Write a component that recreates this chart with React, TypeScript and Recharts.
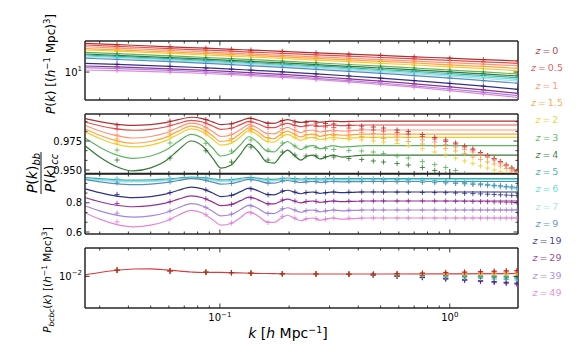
import React from 'react';
import { LineChart, Line, XAxis, YAxis } from 'recharts';

const FONT = "'DejaVu Sans', sans-serif";
const FRAME = '#262626';

const Z_LABELS = ['0', '0.5', '1', '1.5', '2', '3', '4', '5', '6', '7', '9', '19', '29', '39', '49'];
const Z_COLORS = [
  '#a51c1c', '#e23b3b', '#ff8a66', '#ff9a2e', '#f2c81a', '#4cad4c', '#1f6b1f', '#2aa198',
  '#48e0d0', '#aad6ea', '#4682b4', '#1c1c7a', '#8b1a8b', '#9a78dc', '#e27ad0',
];

const K_DOMAIN = [0.0259, 1.98];
const X_TICKS = [0.03, 0.04, 0.05, 0.06, 0.07, 0.08, 0.09, 0.1, 0.2, 0.3, 0.4, 0.5, 0.6, 0.7, 0.8, 0.9, 1];
const X_MAJOR = [0.1, 1];

// theory k grid for the ratio panels
const K_THEORY = [
  0.026, 0.03, 0.035, 0.042, 0.05, 0.058, 0.066, 0.075, 0.084, 0.093, 0.101, 0.112, 0.123, 0.134,
  0.146, 0.16, 0.172, 0.185, 0.197, 0.21, 0.225, 0.24, 0.256, 0.272, 0.29, 0.31, 0.34, 0.38, 0.43,
  0.5, 0.65, 0.85, 1.2, 1.98,
];
// simulation bins
const K_SIM = [
  0.0357, 0.0607, 0.0869, 0.1123, 0.1365, 0.162, 0.187, 0.212, 0.237, 0.262, 0.288, 0.313, 0.364,
  0.414, 0.465, 0.515, 0.59, 0.66, 0.76, 0.86, 0.96, 1.06, 1.16, 1.26, 1.36, 1.46, 1.56, 1.66, 1.76,
  1.86, 1.96,
];
const K_P1 = [0.026, 0.0357, 0.0607, 0.0869, 0.1123, 0.1365, 0.187, 0.262, 0.364, 0.5, 0.7, 1.0, 1.4, 1.98];
const K_P4 = [0.026, 0.03, 0.035, 0.042, 0.05, 0.058, 0.066, 0.075, 0.084, 0.1, 0.12, 0.14, 0.17, 0.22, 0.3, 0.5, 1.0, 1.98];
const K_P4_SIM = [0.0357, 0.0607, 0.0869, 0.1123, 0.1365, 0.187, 0.262, 0.364, 0.465, 0.59, 0.76, 0.96, 1.16, 1.36, 1.56, 1.76, 1.96];

// panel 1: P(k), one row per z
const P1 = [
  [23.47, 22.57, 21.15, 20.29, 19.64, 19.18, 18.45, 17.7, 17.03, 16.39, 15.72, 15.09, 14.47, 13.88],
  [22.31, 21.46, 20.05, 19.18, 18.56, 18.07, 17.44, 16.68, 16.0, 15.4, 14.77, 14.13, 13.56, 12.97],
  [21.22, 20.35, 19.02, 18.13, 17.55, 17.09, 16.39, 15.72, 15.05, 14.43, 13.84, 13.2, 12.63, 12.08],
  [20.0, 19.3, 18.13, 17.35, 16.79, 16.35, 15.72, 15.0, 14.34, 13.72, 13.08, 12.4, 11.8, 11.18],
  [19.24, 18.57, 17.4, 16.59, 16.05, 15.63, 14.95, 14.26, 13.6, 12.97, 12.33, 11.65, 11.05, 10.41],
  [17.97, 17.29, 16.15, 15.4, 14.86, 14.47, 13.84, 13.16, 12.51, 11.9, 11.28, 10.63, 10.05, 9.44],
  [17.09, 16.44, 15.36, 14.64, 14.13, 13.72, 13.16, 12.48, 11.86, 11.28, 10.66, 10.05, 9.47, 8.9],
  [16.59, 15.96, 14.86, 14.13, 13.64, 13.24, 12.63, 12.01, 11.38, 10.79, 10.2, 9.58, 9.03, 8.45],
  [16.1, 15.5, 14.47, 13.76, 13.24, 12.85, 12.29, 11.62, 11.01, 10.44, 9.84, 9.22, 8.64, 8.07],
  [15.5, 14.95, 14.0, 13.36, 12.89, 12.48, 11.93, 11.28, 10.66, 10.08, 9.47, 8.85, 8.26, 7.67],
  [15.05, 14.51, 13.6, 12.93, 12.44, 12.04, 11.48, 10.85, 10.23, 9.61, 9.01, 8.37, 7.76, 7.17],
  [12.97, 12.59, 11.86, 11.31, 10.92, 10.57, 10.05, 9.47, 8.9, 8.34, 7.76, 7.14, 6.57, 5.99],
  [11.97, 11.65, 11.01, 10.5, 10.14, 9.82, 9.33, 8.74, 8.19, 7.65, 7.06, 6.46, 5.89, 5.32],
  [11.38, 11.08, 10.5, 10.02, 9.64, 9.33, 8.85, 8.31, 7.76, 7.23, 6.65, 6.05, 5.5, 4.98],
  [10.63, 10.44, 9.99, 9.58, 9.25, 8.98, 8.54, 7.99, 7.47, 6.94, 6.38, 5.78, 5.23, 4.7],
];

// panel 2: P_bb/P_cc theory, z = 0 .. 4
const P2_LINES = [
  [0.9943, 0.9917, 0.9896, 0.9885, 0.9892, 0.9908, 0.9934, 0.9955, 0.9943, 0.9915, 0.9892, 0.9899, 0.9924, 0.9948, 0.9931, 0.9906, 0.9903, 0.9922, 0.9934, 0.9922, 0.991, 0.992, 0.9922, 0.9913, 0.9917, 0.9922, 0.9917, 0.992, 0.9922, 0.9922, 0.9922, 0.9922, 0.9922, 0.9922],
  [0.9914, 0.9882, 0.9857, 0.9843, 0.9851, 0.9871, 0.9902, 0.9928, 0.9914, 0.9879, 0.9851, 0.986, 0.9891, 0.9919, 0.9899, 0.9868, 0.9865, 0.9888, 0.9902, 0.9888, 0.9874, 0.9885, 0.9888, 0.9877, 0.9882, 0.9888, 0.9882, 0.9885, 0.9888, 0.9888, 0.9888, 0.9888, 0.9888, 0.9888],
  [0.9884, 0.9836, 0.9798, 0.9776, 0.9789, 0.9819, 0.9867, 0.9905, 0.9884, 0.9832, 0.9789, 0.9802, 0.9849, 0.9892, 0.9862, 0.9815, 0.9811, 0.9845, 0.9867, 0.9845, 0.9823, 0.9841, 0.9845, 0.9828, 0.9836, 0.9845, 0.9836, 0.9841, 0.9845, 0.9845, 0.9845, 0.9845, 0.9845, 0.9845],
  [0.9854, 0.98, 0.9756, 0.9731, 0.9746, 0.9781, 0.9835, 0.9879, 0.9854, 0.9795, 0.9746, 0.9761, 0.9815, 0.9864, 0.983, 0.9776, 0.9771, 0.981, 0.9835, 0.981, 0.9785, 0.9805, 0.981, 0.979, 0.98, 0.981, 0.98, 0.9805, 0.981, 0.981, 0.981, 0.981, 0.981, 0.981],
  [0.9829, 0.9772, 0.9725, 0.9699, 0.9715, 0.9751, 0.9808, 0.9854, 0.9829, 0.9766, 0.9715, 0.973, 0.9787, 0.9839, 0.9803, 0.9746, 0.9741, 0.9782, 0.9808, 0.9782, 0.9756, 0.9777, 0.9782, 0.9761, 0.9772, 0.9782, 0.9772, 0.9777, 0.9782, 0.9782, 0.9782, 0.9782, 0.9782, 0.9782],
  [0.9773, 0.9697, 0.9635, 0.9601, 0.9621, 0.967, 0.9746, 0.9808, 0.9773, 0.969, 0.9621, 0.9642, 0.9718, 0.9787, 0.9739, 0.9663, 0.9656, 0.9711, 0.9746, 0.9711, 0.9676, 0.9704, 0.9711, 0.9683, 0.9697, 0.9711, 0.9697, 0.9704, 0.9711, 0.9711, 0.9711, 0.9711, 0.9711, 0.9711],
  [0.9707, 0.9612, 0.9535, 0.9492, 0.9518, 0.9578, 0.9672, 0.975, 0.9707, 0.9603, 0.9517, 0.9543, 0.9638, 0.9724, 0.9664, 0.9569, 0.956, 0.9629, 0.9672, 0.9629, 0.9586, 0.9621, 0.9629, 0.9595, 0.9612, 0.9629, 0.9612, 0.9621, 0.9629, 0.9629, 0.9629, 0.9629, 0.9629, 0.9629],
];
const P2_SIM = [
  [0.9888, 0.9922, 0.9935, 0.9897, 0.9944, 0.9901, 0.9927, 0.9914, 0.9909, 0.9905, 0.9901, 0.9897, 0.9888, 0.9879, 0.9871, 0.9862, 0.9845, 0.9832, 0.9806, 0.978, 0.9759, 0.9733, 0.9707, 0.9681, 0.9651, 0.9625, 0.9599, 0.9573, 0.9543, 0.9517, 0.9491],
  [0.9853, 0.9888, 0.9905, 0.9862, 0.9914, 0.9866, 0.9897, 0.9884, 0.9879, 0.9875, 0.9871, 0.9866, 0.9862, 0.9853, 0.9845, 0.9836, 0.9823, 0.981, 0.9789, 0.9767, 0.9746, 0.9724, 0.9698, 0.9672, 0.9647, 0.9621, 0.9595, 0.9569, 0.9543, 0.9517, 0.9487],
  [0.9802, 0.9845, 0.9866, 0.981, 0.9875, 0.9815, 0.9858, 0.9845, 0.9841, 0.9836, 0.9836, 0.9832, 0.9828, 0.9823, 0.9815, 0.9806, 0.9793, 0.978, 0.9759, 0.9741, 0.972, 0.9698, 0.9677, 0.9655, 0.9629, 0.9608, 0.9586, 0.956, 0.9535, 0.9509, 0.9483],
  [0.9767, 0.981, 0.9836, 0.9772, 0.9849, 0.978, 0.9823, 0.981, 0.9806, 0.9802, 0.9802, 0.9797, 0.9793, 0.9789, 0.978, 0.9772, 0.9759, 0.9746, 0.9724, 0.9707, 0.9685, 0.9664, 0.9642, 0.9612, 0.9591, 0.9569, 0.9552, 0.9535, 0.9513, 0.9491, 0.9474],
  [0.9733, 0.9784, 0.981, 0.9746, 0.9828, 0.975, 0.9797, 0.978, 0.9776, 0.9772, 0.9767, 0.9763, 0.9763, 0.9759, 0.975, 0.9741, 0.9728, 0.9711, 0.9685, 0.9655, 0.9629, 0.9603, 0.9578, 0.9556, 0.9535, 0.9517, 0.95, 0.9483, 0.9466, null, null],
  [0.9672, 0.9733, 0.973, 0.9664, 0.9759, 0.9672, 0.9733, 0.9707, 0.9698, 0.9694, 0.9685, 0.9677, 0.9668, 0.9664, 0.9655, 0.9642, 0.9621, 0.9603, 0.9573, 0.9548, 0.9522, 0.9496, 0.947, null, null, null, null, null, null, null, null],
  [0.9586, 0.9603, 0.9666, 0.9569, 0.9698, 0.9586, 0.9655, 0.9629, 0.9621, 0.9621, 0.9615, 0.9612, 0.9599, 0.9591, 0.9578, 0.9569, 0.9556, 0.9543, 0.9522, 0.9496, 0.9466, null, null, null, null, null, null, null, null, null, null],
];

// panel 3: P_bb/P_cc theory, z = 5 .. 49
const P3_LINES = [
  [0.9727, 0.9651, 0.959, 0.9555, 0.9576, 0.9624, 0.9699, 0.9761, 0.9727, 0.9644, 0.9576, 0.9596, 0.9672, 0.974, 0.9692, 0.9617, 0.961, 0.9665, 0.9699, 0.9665, 0.9631, 0.9658, 0.9665, 0.9638, 0.9651, 0.9665, 0.9651, 0.9658, 0.9665, 0.9665, 0.9665, 0.9665, 0.9665, 0.9665],
  [0.9658, 0.9582, 0.9521, 0.9486, 0.9507, 0.9555, 0.963, 0.9692, 0.9658, 0.9575, 0.9507, 0.9527, 0.9603, 0.9671, 0.9623, 0.9548, 0.9541, 0.9596, 0.963, 0.9596, 0.9562, 0.9589, 0.9596, 0.9569, 0.9582, 0.9596, 0.9582, 0.9589, 0.9596, 0.9596, 0.9596, 0.9596, 0.9596, 0.9596],
  [0.9636, 0.9546, 0.9472, 0.9431, 0.9455, 0.9513, 0.9603, 0.9677, 0.9636, 0.9537, 0.9455, 0.948, 0.957, 0.9652, 0.9595, 0.9505, 0.9496, 0.9562, 0.9603, 0.9562, 0.9521, 0.9554, 0.9562, 0.9529, 0.9546, 0.9562, 0.9546, 0.9554, 0.9562, 0.9562, 0.9562, 0.9562, 0.9562, 0.9562],
  [0.9582, 0.9432, 0.9308, 0.924, 0.9281, 0.9377, 0.9528, 0.9651, 0.9582, 0.9418, 0.9281, 0.9322, 0.9473, 0.961, 0.9514, 0.9363, 0.9349, 0.9459, 0.9528, 0.9459, 0.939, 0.9445, 0.9459, 0.9404, 0.9432, 0.9459, 0.9432, 0.9445, 0.9459, 0.9459, 0.9459, 0.9459, 0.9459, 0.9459],
  [0.8956, 0.8692, 0.8476, 0.8356, 0.8428, 0.8596, 0.886, 0.9076, 0.8956, 0.8668, 0.8428, 0.85, 0.8764, 0.9004, 0.8836, 0.8572, 0.8548, 0.874, 0.886, 0.874, 0.862, 0.8716, 0.874, 0.8644, 0.8692, 0.874, 0.8692, 0.8716, 0.874, 0.874, 0.874, 0.874, 0.874, 0.874],
  [0.8345, 0.8074, 0.7851, 0.7728, 0.7802, 0.7975, 0.8247, 0.8469, 0.8345, 0.8049, 0.7802, 0.7876, 0.8148, 0.8395, 0.8222, 0.795, 0.7925, 0.8123, 0.8247, 0.8123, 0.7999, 0.8098, 0.8123, 0.8024, 0.8074, 0.8123, 0.8074, 0.8098, 0.8123, 0.8123, 0.8123, 0.8123, 0.8123, 0.8123],
  [0.7784, 0.7445, 0.7168, 0.7014, 0.7107, 0.7322, 0.7661, 0.7938, 0.7784, 0.7415, 0.7107, 0.7199, 0.7538, 0.7846, 0.763, 0.7291, 0.7261, 0.7507, 0.7661, 0.7507, 0.7353, 0.7476, 0.7507, 0.7384, 0.7445, 0.7507, 0.7445, 0.7476, 0.7507, 0.7507, 0.7507, 0.7507, 0.7507, 0.7507],
  [0.7298, 0.6884, 0.6544, 0.6356, 0.6469, 0.6733, 0.7148, 0.7487, 0.7298, 0.6846, 0.6469, 0.6582, 0.6997, 0.7374, 0.711, 0.6695, 0.6657, 0.6959, 0.7148, 0.6959, 0.677, 0.6921, 0.6959, 0.6808, 0.6884, 0.6959, 0.6884, 0.6921, 0.6959, 0.6959, 0.6959, 0.6959, 0.6959, 0.6959],
];
const P3_SIM = [
  [0.963, 0.9651, 0.9706, 0.9603, 0.9727, 0.961, 0.9686, 0.9665, 0.9655, 0.9658, 0.9651, 0.9665, 0.966, 0.965, 0.964, 0.962, 0.96, 0.958, 0.955, 0.951, 0.947, 0.943, 0.939, 0.935, 0.931, 0.926, 0.921, 0.917, 0.912, 0.907, 0.902],
  [0.956, 0.9582, 0.9637, 0.9534, 0.9658, 0.9541, 0.9617, 0.9596, 0.9586, 0.9589, 0.9582, 0.9596, 0.959, 0.958, 0.957, 0.955, 0.953, 0.951, 0.948, 0.944, 0.94, 0.936, 0.932, 0.928, 0.924, 0.919, 0.914, 0.91, 0.905, 0.9, 0.895],
  [0.951, 0.9546, 0.9611, 0.9488, 0.9636, 0.9496, 0.9587, 0.9562, 0.955, 0.9554, 0.9546, 0.9562, 0.956, 0.955, 0.954, 0.953, 0.951, 0.949, 0.946, 0.943, 0.939, 0.935, 0.931, 0.927, 0.923, 0.919, 0.915, 0.911, 0.907, 0.903, 0.899],
  [0.936, 0.9432, 0.9541, 0.9336, 0.9582, 0.9349, 0.95, 0.9459, 0.9439, 0.9445, 0.9432, 0.9459, 0.946, 0.945, 0.945, 0.944, 0.943, 0.942, 0.94, 0.938, 0.936, 0.933, 0.93, 0.927, 0.924, 0.921, 0.918, 0.915, 0.912, 0.909, 0.906],
  [0.857, 0.8692, 0.8884, 0.8524, 0.8956, 0.8548, 0.8812, 0.874, 0.8704, 0.8716, 0.8692, 0.874, 0.874, 0.874, 0.874, 0.873, 0.873, 0.872, 0.871, 0.87, 0.869, 0.867, 0.865, 0.863, 0.861, 0.859, 0.857, 0.855, 0.853, 0.851, 0.849],
  [0.795, 0.8074, 0.8271, 0.79, 0.8345, 0.7925, 0.8197, 0.8123, 0.8086, 0.8098, 0.8074, 0.8123, 0.8123, 0.8123, 0.8123, 0.8123, 0.8123, 0.8123, 0.8123, 0.8123, 0.812, 0.811, 0.81, 0.809, 0.808, 0.807, 0.806, 0.805, 0.804, 0.803, 0.802],
  [0.729, 0.7445, 0.7692, 0.723, 0.7784, 0.7261, 0.7599, 0.7507, 0.746, 0.7476, 0.7445, 0.7507, 0.7507, 0.7507, 0.7507, 0.7507, 0.7507, 0.7507, 0.7507, 0.7507, 0.7507, 0.7507, 0.7507, 0.7507, 0.7507, 0.7507, 0.7507, 0.7507, 0.7507, 0.7507, 0.7507],
  [0.669, 0.6884, 0.7185, 0.662, 0.7298, 0.6657, 0.7072, 0.6959, 0.6902, 0.6921, 0.6884, 0.6959, 0.6959, 0.6959, 0.6959, 0.6959, 0.6959, 0.6959, 0.6959, 0.6959, 0.6959, 0.6959, 0.6959, 0.6959, 0.6959, 0.6959, 0.6959, 0.6959, 0.6959, 0.6959, 0.6959],
];

// panel 4: cross spectrum
const P4_LINE = [0.01061, 0.01155, 0.01243, 0.01314, 0.01323, 0.01275, 0.0122, 0.01176, 0.01155, 0.01163, 0.01142, 0.01121, 0.01109, 0.01092, 0.01092, 0.01092, 0.011, 0.01113];
const P4_SIM_LOW = [0.01252, 0.01229, 0.01163, 0.0115, 0.01121, 0.011, 0.01092, 0.0108];
const P4_SIM_HIGH = [
  [0.0109, 0.01109, 0.01133, 0.01159, 0.01176, 0.01198, 0.01216, 0.01234, 0.01243],
  [0.01088, 0.01105, 0.01127, 0.01146, 0.01163, 0.0118, 0.01198, 0.01211, 0.0122],
  [0.01084, 0.01096, 0.01113, 0.01125, 0.01137, 0.0115, 0.01159, 0.01172, 0.01176],
  [0.01082, 0.01088, 0.01099, 0.01106, 0.01113, 0.01119, 0.01125, 0.01131, 0.01133],
  [0.01078, 0.0108, 0.01085, 0.01086, 0.01088, 0.0109, 0.01092, 0.01094, 0.01092],
  [0.01072, 0.01064, 0.01058, 0.01049, 0.0104, 0.01033, 0.01027, 0.01023, 0.01015],
  [0.01069, 0.01057, 0.01045, 0.01029, 0.01016, 0.01006, 0.00996, 0.00988, 0.00978],
  [0.01066, 0.01049, 0.01032, 0.01011, 0.00993, 0.00979, 0.00966, 0.00955, 0.00943],
  [0.01065, 0.01045, 0.01026, 0.01001, 0.00982, 0.00966, 0.00951, 0.00939, 0.00926],
  [0.01063, 0.01042, 0.01019, 0.00993, 0.00971, 0.00953, 0.00938, 0.00924, 0.00909],
  [0.0106, 0.01034, 0.01006, 0.00975, 0.00949, 0.00928, 0.00909, 0.00893, 0.00876],
  [0.0105, 0.01012, 0.00969, 0.00924, 0.00887, 0.00856, 0.00829, 0.00807, 0.00784],
  [0.01047, 0.01004, 0.00957, 0.00908, 0.00867, 0.00833, 0.00805, 0.0078, 0.00756],
  [0.01048, 0.01008, 0.00963, 0.00916, 0.00877, 0.00844, 0.00817, 0.00794, 0.0077],
  [0.01045, 0.01, 0.00952, 0.00901, 0.00857, 0.00823, 0.00794, 0.00767, 0.00742],
];

const rows = (ks: number[], vs: (number | null)[]) =>
  ks.map((k, i) => ({ k, v: vs[i] })).filter((r) => r.v != null);

const isIn = (arr: number[], v: number) => arr.some((m) => Math.abs(m - v) <= Math.abs(m) * 1e-6);

const crossDot = (color: string, skipFirst: boolean) => (p: any) => {
  const { cx, cy, index } = p;
  if (cx == null || cy == null || (skipFirst && index === 0)) return <g key={`c${index}`} />;
  return (
    <path
      key={`c${index}`}
      d={`M${cx - 2.6},${cy}H${cx + 2.6}M${cx},${cy - 2.6}V${cy + 2.6}`}
      stroke={color}
      strokeWidth={0.9}
      strokeOpacity={0.85}
      fill="none"
    />
  );
};

const supText = (x: number, y: number, base: string, exp: string, anchor: string, size = 10) => (
  <text x={x} y={y} textAnchor={anchor} fontSize={size} fontFamily={FONT} fill="#000">
    {base}
    <tspan dy={-size * 0.45} fontSize={size * 0.7}>
      {exp}
    </tspan>
  </text>
);

const bottomTick = (labels: boolean) => (p: any) => {
  const { x, y, payload } = p;
  const major = isIn(X_MAJOR, payload.value);
  return (
    <g>
      <line x1={x} x2={x} y1={y} y2={y - (major ? 4.5 : 2.5)} stroke={FRAME} strokeWidth={0.9} />
      {labels && major && supText(x, y + 13, '10', payload.value === 1 ? '0' : '\u22121', 'middle')}
    </g>
  );
};

const topTick = (p: any) => {
  const { x, y, payload } = p;
  const major = isIn(X_MAJOR, payload.value);
  return <line x1={x} x2={x} y1={y} y2={y + (major ? 4.5 : 2.5)} stroke={FRAME} strokeWidth={0.9} />;
};

const leftTick = (majors: number[], fmt: (v: number, x: number, y: number) => any) => (p: any) => {
  const { x, y, payload } = p;
  const major = isIn(majors, payload.value);
  return (
    <g>
      <line x1={x} x2={x + (major ? 4.5 : 2.5)} y1={y} y2={y} stroke={FRAME} strokeWidth={0.9} />
      {major && fmt(payload.value, x - 3, y)}
    </g>
  );
};

const rightTick = (majors: number[]) => (p: any) => {
  const { x, y, payload } = p;
  const major = isIn(majors, payload.value);
  return <line x1={x} x2={x - (major ? 4.5 : 2.5)} y1={y} y2={y} stroke={FRAME} strokeWidth={0.9} />;
};

type Series = { data: { k: number; v: number | null }[]; color: string; line: boolean; cross: boolean; skipFirst?: boolean };

function Panel(props: {
  top: number;
  plotH: number;
  bottomH: number;
  yDomain: number[];
  yLog: boolean;
  yTicks: number[];
  yMajors: number[];
  yFmt: (v: number, x: number, y: number) => any;
  xLabels: boolean;
  series: Series[];
}) {
  const { top, plotH, bottomH, yDomain, yLog, yTicks, yMajors, yFmt, xLabels, series } = props;
  const axisLine = { stroke: FRAME, strokeWidth: 1.5 };
  return (
    <div style={{ position: 'absolute', left: 0, top: top - 6 }}>
      <LineChart width={576} height={6 + plotH + bottomH} margin={{ top: 0, right: 0, bottom: 0, left: 0 }}>
        <XAxis
          xAxisId="b"
          dataKey="k"
          type="number"
          scale="log"
          domain={K_DOMAIN}
          allowDataOverflow
          ticks={X_TICKS}
          interval={0}
          tickSize={0}
          tickMargin={0}
          tickLine={false}
          axisLine={axisLine}
          tick={bottomTick(xLabels)}
          height={bottomH}
        />
        <XAxis
          xAxisId="t"
          orientation="top"
          dataKey="k"
          type="number"
          scale="log"
          domain={K_DOMAIN}
          allowDataOverflow
          ticks={X_TICKS}
          interval={0}
          tickSize={0}
          tickMargin={0}
          tickLine={false}
          axisLine={axisLine}
          tick={topTick}
          height={6}
        />
        <YAxis
          yAxisId="l"
          type="number"
          scale={yLog ? 'log' : 'linear'}
          domain={yDomain}
          allowDataOverflow
          ticks={yTicks}
          interval={0}
          tickSize={0}
          tickMargin={0}
          tickLine={false}
          axisLine={axisLine}
          tick={leftTick(yMajors, yFmt)}
          width={85}
        />
        <YAxis
          yAxisId="r"
          orientation="right"
          type="number"
          scale={yLog ? 'log' : 'linear'}
          domain={yDomain}
          allowDataOverflow
          ticks={yTicks}
          interval={0}
          tickSize={0}
          tickMargin={0}
          tickLine={false}
          axisLine={axisLine}
          tick={rightTick(yMajors)}
          width={58}
        />
        <Line
          xAxisId="t"
          yAxisId="r"
          data={series[0].data}
          dataKey="v"
          stroke="none"
          dot={false}
          activeDot={false}
          isAnimationActive={false}
        />
        {series.map((s, i) => (
          <Line
            key={i}
            xAxisId="b"
            yAxisId="l"
            data={s.data}
            dataKey="v"
            type="monotone"
            stroke={s.line ? s.color : 'none'}
            strokeWidth={1.2}
            strokeOpacity={0.9}
            dot={s.cross ? crossDot(s.color, !!s.skipFirst) : false}
            activeDot={false}
            isAnimationActive={false}
          />
        ))}
      </LineChart>
    </div>
  );
}

const labelFmt = (digits: number) => (v: number, x: number, y: number) => (
  <text x={x} y={y + 3.6} textAnchor="end" fontSize={10} fontFamily={FONT} fill="#000">
    {v.toFixed(digits)}
  </text>
);

export default function App() {
  const p1: Series[] = P1.map((vals, i) => ({
    data: rows(K_P1, vals),
    color: Z_COLORS[i],
    line: true,
    cross: true,
    skipFirst: true,
  }));
  const p2: Series[] = [
    ...P2_LINES.map((vals, i) => ({ data: rows(K_THEORY, vals), color: Z_COLORS[i], line: true, cross: false })),
    ...P2_SIM.map((vals, i) => ({ data: rows(K_SIM, vals), color: Z_COLORS[i], line: false, cross: true })),
  ];
  const p3: Series[] = [
    ...P3_LINES.map((vals, i) => ({ data: rows(K_THEORY, vals), color: Z_COLORS[i + 7], line: true, cross: false })),
    ...P3_SIM.map((vals, i) => ({ data: rows(K_SIM, vals), color: Z_COLORS[i + 7], line: false, cross: true })),
  ];
  const p4Sim: Series[] = P4_SIM_HIGH.map((hi, i) => ({
    data: rows(K_P4_SIM, [...P4_SIM_LOW, ...hi]),
    color: Z_COLORS[i],
    line: false,
    cross: true,
  })).reverse();
  const p4: Series[] = [{ data: rows(K_P4, P4_LINE), color: '#d2262b', line: true, cross: false }, ...p4Sim];

  return (
    <div style={{ position: 'absolute', left: 0, top: 0, width: 576, height: 346, background: '#fff', fontFamily: FONT }}>
      <Panel
        top={41}
        plotH={59}
        bottomH={6}
        yDomain={[4.365, 25.12]}
        yLog
        yTicks={[10]}
        yMajors={[10]}
        yFmt={(v, x, y) => supText(x, y + 3.6, '10', '1', 'end')}
        xLabels={false}
        series={p1}
      />
      <Panel
        top={114}
        plotH={59.5}
        bottomH={6}
        yDomain={[0.947, 0.9983]}
        yLog={false}
        yTicks={[0.95, 0.9583, 0.9667, 0.975, 0.9833, 0.9917]}
        yMajors={[0.95, 0.975]}
        yFmt={labelFmt(3)}
        xLabels={false}
        series={p2}
      />
      <Panel
        top={173.5}
        plotH={60}
        bottomH={8}
        yDomain={[0.5863, 0.9973]}
        yLog={false}
        yTicks={[0.6, 0.6667, 0.7333, 0.8, 0.8667, 0.9333]}
        yMajors={[0.6, 0.8]}
        yFmt={labelFmt(1)}
        xLabels={false}
        series={p3}
      />
      <Panel
        top={248}
        plotH={60}
        bottomH={22}
        yDomain={[0.003123, 0.02846]}
        yLog
        yTicks={[0.01]}
        yMajors={[0.01]}
        yFmt={(v, x, y) => supText(x, y + 3.6, '10', '\u22122', 'end')}
        xLabels
        series={p4}
      />
      <svg width={576} height={346} style={{ position: 'absolute', left: 0, top: 0, pointerEvents: 'none' }}>
        <g transform="translate(55,64) rotate(-90)">
          <text textAnchor="middle" fontSize={12} fontFamily={FONT} fill="#000">
            <tspan fontStyle="italic">P</tspan>(<tspan fontStyle="italic">k</tspan>) [(<tspan fontStyle="italic">h</tspan>
            <tspan dy={-5} fontSize={8.5}>{'\u22121'}</tspan>
            <tspan dy={5}> Mpc)</tspan>
            <tspan dy={-5} fontSize={8.5}>3</tspan>
            <tspan dy={5}>]</tspan>
          </text>
        </g>
        <g transform="translate(37,173) rotate(-90)">
          <text textAnchor="middle" fontSize={14} fontFamily={FONT} fill="#000">
            <tspan fontStyle="italic">P</tspan>(<tspan fontStyle="italic">k</tspan>)
            <tspan dy={3} fontSize={10} fontStyle="italic">bb</tspan>
          </text>
        </g>
        <line x1={41} x2={41} y1={152} y2={194} stroke="#000" strokeWidth={0.9} />
        <g transform="translate(55,173) rotate(-90)">
          <text textAnchor="middle" fontSize={14} fontFamily={FONT} fill="#000">
            <tspan fontStyle="italic">P</tspan>(<tspan fontStyle="italic">k</tspan>)
            <tspan dy={3} fontSize={10} fontStyle="italic">cc</tspan>
          </text>
        </g>
        <g transform="translate(51,280) rotate(-90)">
          <text textAnchor="middle" fontSize={10.5} fontFamily={FONT} fill="#000">
            <tspan fontStyle="italic">P</tspan>
            <tspan dy={2.5} fontSize={7.5} fontStyle="italic">bcbc</tspan>
            <tspan dy={-2.5}>(</tspan>
            <tspan fontStyle="italic">k</tspan>) [(<tspan fontStyle="italic">h</tspan>
            <tspan dy={-4.5} fontSize={7.5}>{'\u22121'}</tspan>
            <tspan dy={4.5}> Mpc)</tspan>
            <tspan dy={-4.5} fontSize={7.5}>3</tspan>
            <tspan dy={4.5}>]</tspan>
          </text>
        </g>
        <text x={288} y={338} textAnchor="middle" fontSize={14} fontFamily={FONT} fill="#000">
          <tspan fontStyle="italic">k</tspan> [<tspan fontStyle="italic">h</tspan> Mpc
          <tspan dy={-5.5} fontSize={9.5}>{'\u22121'}</tspan>
          <tspan dy={5.5}>]</tspan>
        </text>
        {Z_LABELS.map((z, i) => (
          <text
            key={z}
            x={547}
            y={50.7 + i * 17.28 + 3.4}
            textAnchor="middle"
            fontSize={9.5}
            fontFamily={FONT}
            fill={Z_COLORS[i]}
            fillOpacity={0.85}
          >
            <tspan fontStyle="italic">z</tspan>
            {'\u2009=\u2009' + z}
          </text>
        ))}
      </svg>
    </div>
  );
}
